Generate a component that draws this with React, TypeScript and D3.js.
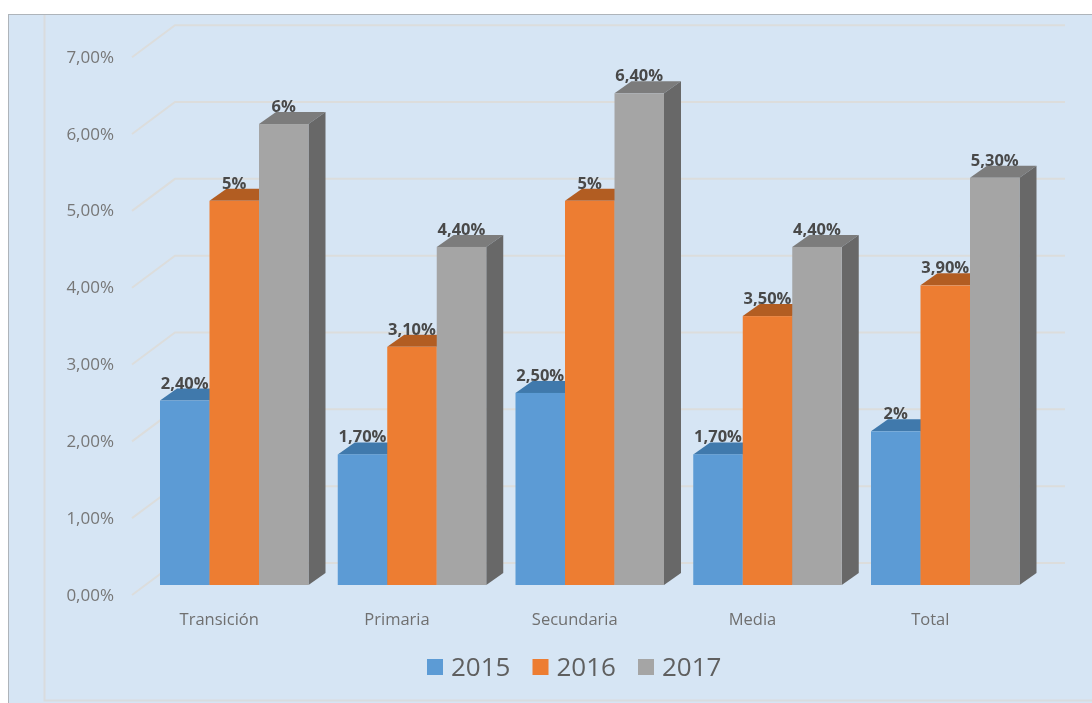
import React from "react";
import * as d3 from "d3";

const categories = ["Transición", "Primaria", "Secundaria", "Media", "Total"];
const years = ["2015", "2016", "2017"];
const values2015 = [2.4, 1.7, 2.5, 1.7, 2];
const values2016 = [5, 3.1, 5, 3.5, 3.9];
const values2017 = [6, 4.4, 6.4, 4.4, 5.3];
const labels2015 = ["2,40%", "1,70%", "2,50%", "1,70%", "2%"];
const labels2016 = ["5%", "3,10%", "5%", "3,50%", "3,90%"];
const labels2017 = ["6%", "4,40%", "6,40%", "4,40%", "5,30%"];
const yTicks = [0, 1, 2, 3, 4, 5, 6, 7];
const fronts = ["#5b9bd5", "#ed7d31", "#a5a5a5"];
const tops = ["#3f79ac", "#b25d24", "#7c7c7c"];
const sides = ["#3a6c9a", "#b25d24", "#686868"];

const series = [
  { values: values2015, labels: labels2015 },
  { values: values2016, labels: labels2016 },
  { values: values2017, labels: labels2017 },
];

const font = "'Open Sans', sans-serif";
const y = d3.scaleLinear().domain([0, 7]).range([585, 47.2]);
const cat = d3.scaleBand<string>().domain(categories).range([160, 1019.5]).paddingInner(0.1646).paddingOuter(0);
const yr = d3.scaleBand<string>().domain(years).range([0, cat.bandwidth()]);

const depthX = 17;
const depthY = 12;
const gridFront = { x: 132, dy: 10 };
const gridBack = { x: 175, dy: -22 };
const gridEnd = 1065;

export default function App() {
  const gridLine = d3.line();
  return (
    <svg
      width={1092}
      height={703}
      style={{ position: "absolute", left: 0, top: 0, display: "block", background: "#fff" }}
    >
      <defs>
        <filter id="soft" x="-2%" y="-2%" width="104%" height="104%">
          <feGaussianBlur stdDeviation="0.5" />
        </filter>
      </defs>
      <g filter="url(#soft)">
        <rect x={8.5} y={14.5} width={1090} height={695} fill="#d6e5f4" stroke="#aeb4ba" strokeWidth={1} />
        <path d="M44.5,15V700.5H1092" fill="none" stroke="#d9dcde" strokeWidth={2} />
        {yTicks.map((t) => (
          <g key={t}>
            <path
              d={gridLine([
                [gridFront.x, y(t) + gridFront.dy],
                [gridBack.x, y(t) + gridBack.dy],
                [gridEnd, y(t) + gridBack.dy],
              ]) ?? ""}
              fill="none"
              stroke="#dcdddc"
              strokeWidth={2}
            />
            <text
              x={114}
              y={y(t) + 15.5}
              textAnchor="end"
              fontFamily={font}
              fontSize={17}
              fill="#767676"
            >
              {d3.format(".2f")(t).replace(".", ",") + "%"}
            </text>
          </g>
        ))}
        {categories.map((c, ci) => {
          const gx = cat(c) ?? 0;
          const w = yr.bandwidth();
          return (
            <g key={c}>
              {series.map((s, si) => {
                const x0 = gx + (yr(years[si]) ?? 0);
                const top = y(s.values[ci]);
                return (
                  <g key={si}>
                    <path
                      d={`M${x0},${top}L${x0 + depthX},${top - depthY}H${x0 + w + depthX}L${x0 + w},${top}Z`}
                      fill={tops[si]}
                    />
                    <path
                      d={`M${x0 + w},${top}L${x0 + w + depthX},${top - depthY}V${y(0) - depthY}L${x0 + w},${y(0)}Z`}
                      fill={sides[si]}
                    />
                    <rect x={x0} y={top} width={w} height={y(0) - top} fill={fronts[si]} />
                  </g>
                );
              })}
              <text
                x={gx + cat.bandwidth() / 2 - 15}
                y={625}
                textAnchor="middle"
                fontFamily={font}
                fontSize={16.5}
                fill="#6f6f6f"
              >
                {c}
              </text>
            </g>
          );
        })}
        {categories.map((c, ci) =>
          series.map((s, si) => {
            const x0 = (cat(c) ?? 0) + (yr(years[si]) ?? 0);
            return (
              <text
                key={c + si}
                x={x0 + yr.bandwidth() / 2}
                y={y(s.values[ci]) - 12}
                textAnchor="middle"
                fontFamily={font}
                fontSize={16.5}
                fontWeight={700}
                fill="#4a4a4a"
              >
                {s.labels[ci]}
              </text>
            );
          })
        )}
        {years.map((yrName, i) => {
          const lx = d3.scaleLinear().domain([0, 2]).range([427, 638])(i);
          return (
            <g key={yrName}>
              <rect x={lx} y={659} width={16} height={16} fill={fronts[i]} />
              <text x={lx + 24} y={676} fontFamily={font} fontSize={26} fill="#5f5f5f">
                {yrName}
              </text>
            </g>
          );
        })}
      </g>
    </svg>
  );
}
